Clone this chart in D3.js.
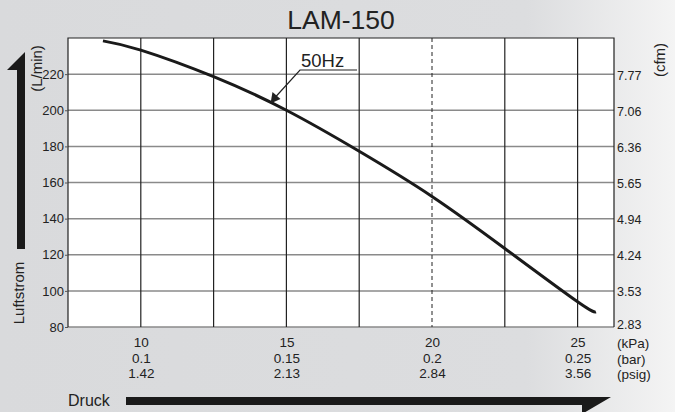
<!DOCTYPE html>
<html>
<head>
<meta charset="utf-8">
<script src="https://cdn.jsdelivr.net/npm/d3@7"></script>
<style>
  body { margin: 0; }
  svg { display: block; font-family: "Liberation Sans", Arial, sans-serif; }
</style>
</head>
<body>
<div class="svg-target"></div>
<script>
const w = 675;
const h = 412;

// data
const kPa = [8.7, 10, 12.5, 15, 17.5, 20, 22.5, 25, 25.63];
const flow = [238.4, 233.3, 218.6, 200, 177.3, 152.3, 123.5, 94, 88.4];
const flowTicks = [80, 100, 120, 140, 160, 180, 200, 220];
const cfmLabels = ['2.83', '3.53', '4.24', '4.94', '5.65', '6.36', '7.06', '7.77'];
const xGrid = [10, 12.5, 15, 17.5, 20, 22.5, 25];
const xTicks = [10, 15, 20, 25];
const barLabels = ['0.1', '0.15', '0.2', '0.25'];
const psigLabels = ['1.42', '2.13', '2.84', '3.56'];
const units = ['(kPa)', '(bar)', '(psig)'];

const m = { left: 68, right: 614, top: 38, bottom: 327 };
const font = '"Liberation Sans", Arial, sans-serif';

const svg = d3.select('.svg-target')
    .append('svg')
    .attr('width', w)
    .attr('height', h);

// background
const grad = svg.append('defs').append('linearGradient')
    .attr('id', 'bg')
    .attr('x1', '0%').attr('x2', '100%');
grad.append('stop').attr('offset', '0%').attr('stop-color', '#d9dadc');
grad.append('stop').attr('offset', '78%').attr('stop-color', '#dcdddf');
grad.append('stop').attr('offset', '100%').attr('stop-color', '#f4f4f4');
svg.append('rect').attr('width', w).attr('height', h).attr('fill', 'url(#bg)');

const x = d3.scaleLinear().domain([7.5, 26.25]).range([m.left, m.right]);
const y = d3.scaleLinear().domain([80, 240]).range([m.bottom, m.top]);

// plot area
svg.append('rect')
    .attr('x', m.left).attr('y', m.top)
    .attr('width', m.right - m.left).attr('height', m.bottom - m.top)
    .attr('fill', '#fff');

// horizontal grid
svg.append('g')
    .selectAll('line')
    .data(flowTicks)
    .enter()
    .append('line')
        .attr('x1', m.left).attr('x2', m.right)
        .attr('y1', d => y(d)).attr('y2', d => y(d))
        .attr('stroke', '#8a8a8a')
        .attr('stroke-width', 1.5);

// vertical grid
svg.append('g')
    .selectAll('line')
    .data(xGrid)
    .enter()
    .append('line')
        .attr('x1', d => x(d)).attr('x2', d => x(d))
        .attr('y1', m.top).attr('y2', m.bottom)
        .attr('stroke', '#222')
        .attr('stroke-width', d => d === 20 ? 1 : 1.2)
        .attr('stroke-dasharray', d => d === 20 ? '4,3' : null);

// frame
svg.append('path')
    .attr('d', `M${m.left},${m.bottom}V${m.top}H${m.right}V${m.bottom}`)
    .attr('fill', 'none')
    .attr('stroke', '#222')
    .attr('stroke-width', 1.2);

// left axis
const yAxis = d3.axisLeft(y).tickValues(flowTicks).tickSize(3).tickPadding(1);
svg.append('g')
    .attr('transform', `translate(${m.left}, 0)`)
    .call(yAxis)
    .call(g => g.select('.domain').remove())
    .call(g => g.selectAll('line').attr('stroke', '#555'))
    .call(g => g.selectAll('text')
        .attr('font-size', 13)
        .attr('font-family', font)
        .attr('fill', '#222'));

// right axis (cfm)
const yRight = d3.axisRight(y).tickValues(flowTicks)
    .tickFormat((d, i) => cfmLabels[i]).tickSize(0).tickPadding(3);
svg.append('g')
    .attr('transform', `translate(${m.right}, 0)`)
    .call(yRight)
    .call(g => g.select('.domain').remove())
    .call(g => g.selectAll('text')
        .attr('dy', (d, i) => i === 0 ? '0.1em' : '0.4em')
        .attr('font-size', 12.5)
        .attr('font-family', font)
        .attr('fill', '#222'));

// bottom labels
const xAxis = d3.axisBottom(x).tickValues(xTicks).tickSize(0).tickPadding(10);
const xg = svg.append('g')
    .attr('transform', `translate(0, ${m.bottom})`)
    .call(xAxis)
    .call(g => g.select('.domain').remove());
xg.selectAll('.tick text')
    .attr('font-size', 13.5)
    .attr('font-family', font)
    .attr('fill', '#222');
xg.selectAll('.tick')
    .append('text')
        .attr('y', 26).attr('dy', '0.71em')
        .attr('fill', '#222').attr('font-size', 13.5)
        .attr('font-family', font)
        .text((d, i) => barLabels[i]);
xg.selectAll('.tick')
    .append('text')
        .attr('y', 41.5).attr('dy', '0.71em')
        .attr('fill', '#222').attr('font-size', 13.5)
        .attr('font-family', font)
        .text((d, i) => psigLabels[i]);

svg.append('g')
    .selectAll('text')
    .data(units)
    .enter()
    .append('text')
        .attr('x', 617)
        .attr('y', (d, i) => 348 + i * 15.5)
        .attr('font-size', 13.5)
        .attr('fill', '#222')
        .text(d => d);

// curve
const line = d3.line()
    .x(d => x(d[0]))
    .y(d => y(d[1]))
    .curve(d3.curveNatural);
svg.append('path')
    .datum(kPa.map((k, i) => [k, flow[i]]))
    .attr('d', line)
    .attr('fill', 'none')
    .attr('stroke', '#1a1a1a')
    .attr('stroke-width', 3);

// 50Hz label with leader
svg.append('text')
    .attr('x', 301).attr('y', 67)
    .attr('font-size', 18.5)
    .attr('fill', '#222')
    .text('50Hz');
svg.append('path')
    .attr('d', 'M357,70H300L275.5,97')
    .attr('fill', 'none')
    .attr('stroke', '#222')
    .attr('stroke-width', 1.2);
svg.append('path')
    .attr('d', 'M270.5,103.5L272.5,92L280.5,99Z')
    .attr('fill', '#222');

// title
svg.append('text')
    .attr('x', 341).attr('y', 29)
    .attr('text-anchor', 'middle')
    .attr('font-size', 26.5)
    .attr('fill', '#222')
    .text('LAM-150');

// axis titles
svg.append('text')
    .attr('transform', 'translate(41.5, 68.5) rotate(-90)')
    .attr('text-anchor', 'middle')
    .attr('font-size', 15)
    .attr('fill', '#222')
    .text('(L/min)');
svg.append('text')
    .attr('transform', 'translate(23.5, 293) rotate(-90)')
    .attr('text-anchor', 'middle')
    .attr('font-size', 15)
    .attr('fill', '#222')
    .text('Luftstrom');
svg.append('text')
    .attr('transform', 'translate(665, 60) rotate(-90)')
    .attr('text-anchor', 'middle')
    .attr('font-size', 15)
    .attr('fill', '#222')
    .text('(cfm)');
svg.append('text')
    .attr('x', 68).attr('y', 405.5)
    .attr('font-size', 16)
    .attr('fill', '#222')
    .text('Druck');

// big arrows
svg.append('path')
    .attr('d', 'M17,249V70H7L25,52V249Z')
    .attr('fill', '#1a1a1a');
svg.append('path')
    .attr('d', 'M126,397H611L582,414V405H126Z')
    .attr('fill', '#1a1a1a');
</script>
</body>
</html>
